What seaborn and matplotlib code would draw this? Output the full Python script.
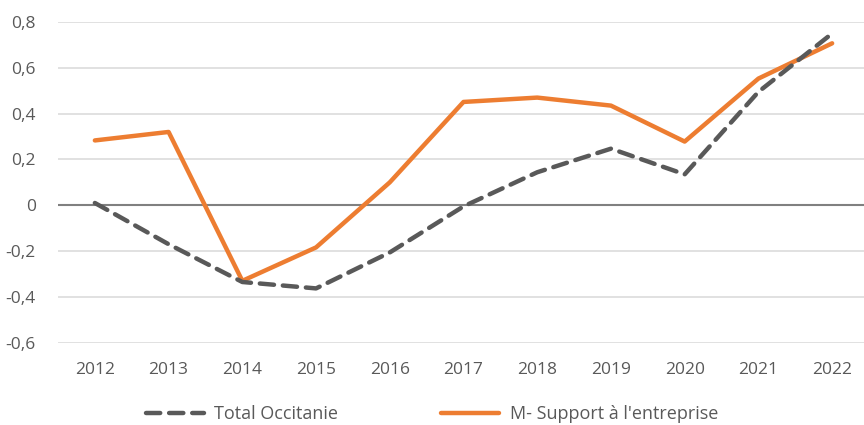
import numpy as np
import pandas as pd
import matplotlib.pyplot as plt
import seaborn as sns

years = [2012, 2013, 2014, 2015, 2016, 2017, 2018, 2019, 2020, 2021, 2022]
total_occitanie = [0.01, -0.17, -0.335, -0.363, -0.206, -0.005, 0.144, 0.247, 0.135, 0.495, 0.75]
support_entreprise = [0.283, 0.32, -0.33, -0.184, 0.10, 0.451, 0.47, 0.435, 0.278, 0.553, 0.707]
labels = ["Total Occitanie", "M- Support à l'entreprise"]

sns.set_theme(style="white")
plt.rcParams['font.family'] = ['Open Sans', 'DejaVu Sans']
txt = '#595959'

fig = plt.figure(figsize=(8.64, 4.25), dpi=100)
ax = fig.add_axes([58/864, 1 - 342.7/425, (869-58)/864, (342.7-22)/425])

df = pd.DataFrame({'year': years, 'tot': total_occitanie, 'sup': support_entreprise})

# grid
for v in np.arange(-0.6, 0.81, 0.2):
    if abs(v) > 1e-9:
        ax.axhline(v, color='#D9D9D9', lw=1.1, zorder=0)
ax.axhline(0, color='#808080', lw=1.5, zorder=1)

sns.lineplot(data=df, x='year', y='tot', ax=ax, color='#595959', lw=3.2,
             label=labels[0], zorder=3)
ax.lines[-1].set_dashes([3.2, 2.0])
ax.lines[-1].set_dash_capstyle('round')
sns.lineplot(data=df, x='year', y='sup', ax=ax, color='#ED7D31', lw=3.2,
             label=labels[1], zorder=2)
ax.lines[-1].set_solid_capstyle('round')

ax.set_xlim(2011.5, 2022.5)
ax.set_ylim(-0.6, 0.8)
ax.set_xticks(years)
ax.set_xticklabels([str(y) for y in years])
yt = np.round(np.arange(-0.6, 0.81, 0.2), 1)
ax.set_yticks(yt)
ax.set_yticklabels([('%g' % v).replace('.', ',') for v in yt])
ax.tick_params(axis='both', length=0, labelsize=12.5, labelcolor=txt)
ax.tick_params(axis='x', pad=14)
ax.tick_params(axis='y', pad=16)
ax.set_xlabel('')
ax.set_ylabel('')
for s in ax.spines.values():
    s.set_visible(False)

handles, labs = ax.get_legend_handles_labels()
ax.get_legend().remove()
leg = fig.legend(handles, labs, loc='center', bbox_to_anchor=(0.5, 1 - 414/425), ncol=2,
                 frameon=False, fontsize=13, handlelength=3.2, columnspacing=5.7,
                 handletextpad=0.6)
for t in leg.get_texts():
    t.set_color(txt)

fig.savefig('out.png', dpi=100)
